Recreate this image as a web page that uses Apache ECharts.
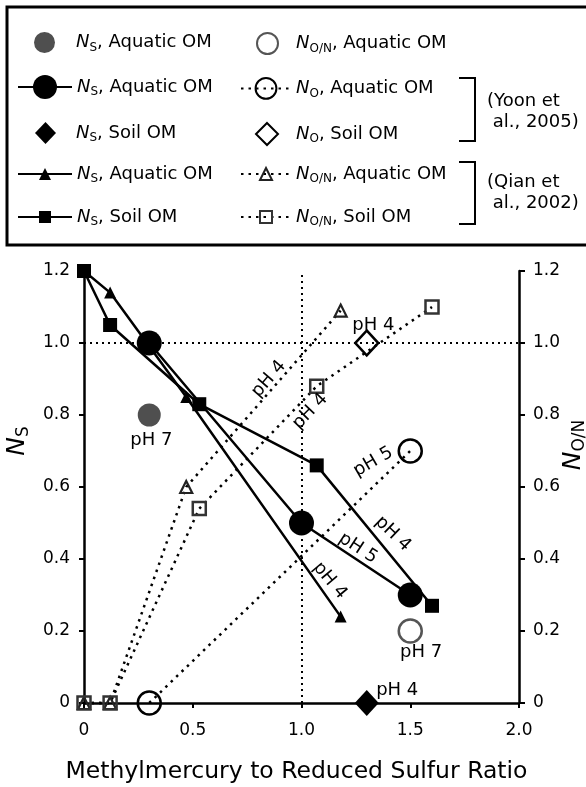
<!DOCTYPE html>
<html>
<head>
<meta charset="utf-8">
<script src="https://cdn.jsdelivr.net/npm/echarts@6.0.0/dist/echarts.min.js"></script>
<style>
  html, body { margin: 0; padding: 0; background: #fff; }
  #chart { width: 586px; height: 787px; }
</style>
</head>
<body>
<div id="chart"></div>
<script>
// Yoon et al., 2005
const yoonAqX = [0.3, 1.0, 1.5];
const yoonNsAq = [1.0, 0.5, 0.3];
const yoonNoAqX = [0.3, 1.5];
const yoonNoAq = [0, 0.7];
const yoonSoilX = [1.3];
const yoonNsSoil = [0];
const yoonNoSoil = [1.0];

// Qian et al., 2002
const qianAqX = [0, 0.12, 0.47, 1.18];
const qianNsAq = [1.2, 1.14, 0.85, 0.24];
const qianNoAq = [0, 0, 0.6, 1.09];
const qianSoilX = [0, 0.12, 0.53, 1.07, 1.6];
const qianNsSoil = [1.2, 1.05, 0.83, 0.66, 0.27];
const qianNoSoil = [0, 0, 0.54, 0.88, 1.1];

// this study
const ownNsX = [0.3];
const ownNs = [0.8];
const ownNoX = [1.5];
const ownNo = [0.2];

// reference lines
const refX = [1.0];
const refY = [1.0];

// pH notes
const noteText = ['pH 7', 'pH 7', 'pH 4', 'pH 4', 'pH 4', 'pH 5', 'pH 4', 'pH 5', 'pH 4', 'pH 4'];
const noteX = [0.31, 1.55, 0.85, 1.04, 1.33, 1.33, 1.42, 1.26, 1.13, 1.44];
const noteY = [0.73, 0.14, 0.90, 0.81, 1.05, 0.67, 0.47, 0.43, 0.34, 0.035];
const noteRot = [0, 0, 49, 46, 0, 30, -44, -33, -50, 0];

const xTicks = ['0', '0.5', '1.0', '1.5', '2.0'];

const FONT = 'DejaVu Sans';
const pairs = (xs, ys) => xs.map((x, i) => [x, ys[i]]);

const legendRich = {
  g: { fontSize: 18, fontFamily: FONT },
  n: { fontSize: 18, fontStyle: 'italic', fontFamily: FONT },
  s: { fontSize: 12, fontFamily: FONT, padding: [10, 0, 0, 0] },
  t: { fontSize: 18, fontFamily: FONT }
};
const legendText = {
  ownNs: '{n|N}{s|S}{t|, Aquatic OM}',
  ownNo: '{n|N}{s|O/N}{t|, Aquatic OM}',
  yoonNsAq: '{n|N}{s|S}{t|, Aquatic OM}',
  yoonNoAq: '{n|N}{s|O}{t|, Aquatic OM}',
  yoonNsSoil: '{n|N}{s|S}{t|, Soil OM}',
  yoonNoSoil: '{n|N}{s|O}{t|, Soil OM}',
  qianNsAq: '{n|N}{s|S}{t|, Aquatic OM}',
  qianNoAq: '{n|N}{s|O/N}{t|, Aquatic OM}',
  qianNsSoil: '{n|N}{s|S}{t|, Soil OM}',
  qianNoSoil: '{n|N}{s|O/N}{t|, Soil OM}'
};

// gap: extra room between a lone symbol and its text, so texts line up
function legendFor(name, left, top, itemWidth, itemHeight, gap) {
  const rich = Object.assign({}, legendRich, { g: Object.assign({}, legendRich.g, { width: gap || 0 }) });
  return {
    data: [name],
    left: left,
    top: top,
    padding: 0,
    itemWidth: itemWidth,
    itemHeight: itemHeight,
    selectedMode: false,
    formatter: (n) => (gap ? '{g| }' : '') + legendText[n],
    textStyle: { color: '#000', rich: rich }
  };
}

const solid = { color: '#000', width: 2.5, type: 'solid' };
const dotted = { color: '#000', width: 2.5, type: [2.5, 5] };
const open = (c, w) => ({ color: 'transparent', borderColor: c, borderWidth: w, opacity: 1 });

const chart = echarts.init(document.getElementById('chart'));

chart.setOption({
  animation: false,
  backgroundColor: '#fff',
  textStyle: { fontFamily: FONT },
  grid: { left: 84, right: 67, top: 271, bottom: 84, containLabel: false, outerBoundsMode: 'none' },
  legend: [
    legendFor('ownNs', 34, 32, 21, 21, 16),
    legendFor('ownNo', 256, 32, 21, 21, 13),
    legendFor('yoonNsAq', 17, 75, 54, 30),
    legendFor('yoonNoAq', 240, 77, 50, 26),
    legendFor('yoonNsSoil', 35, 122, 21, 22, 15),
    legendFor('yoonNoSoil', 255, 122, 22, 22, 13),
    legendFor('qianNsAq', 17, 165, 54, 15),
    legendFor('qianNoAq', 240, 165, 50, 15),
    legendFor('qianNsSoil', 17, 208, 54, 15),
    legendFor('qianNoSoil', 240, 208, 50, 15)
  ],
  graphic: [
    { type: 'rect', shape: { x: 7, y: 7, width: 600, height: 238 },
      style: { fill: 'none', stroke: '#000', lineWidth: 3 } },
    { type: 'polyline', shape: { points: [[459, 78], [475, 78], [475, 141], [459, 141]] },
      style: { fill: 'none', stroke: '#000', lineWidth: 2 } },
    { type: 'polyline', shape: { points: [[459, 162], [475, 162], [475, 224], [459, 224]] },
      style: { fill: 'none', stroke: '#000', lineWidth: 2 } },
    { type: 'text', x: 487, y: 91,
      style: { text: '(Yoon et\n al., 2005)', font: '18px "DejaVu Sans"', lineHeight: 21, fill: '#000' } },
    { type: 'text', x: 487, y: 172,
      style: { text: '(Qian et\n al., 2002)', font: '18px "DejaVu Sans"', lineHeight: 21, fill: '#000' } }
  ],
  xAxis: {
    type: 'value', min: 0, max: 2, interval: 0.5,
    name: 'Methylmercury to Reduced Sulfur Ratio',
    nameLocation: 'middle', nameGap: 57,
    nameTextStyle: { fontSize: 23.5, color: '#000', fontFamily: FONT, padding: [0, 10, 0, 0] },
    axisLine: { lineStyle: { color: '#000', width: 2.5 } },
    axisTick: { length: 5, lineStyle: { color: '#000', width: 2 } },
    axisLabel: { fontSize: 17, color: '#000', margin: 19,
      formatter: (v) => xTicks[Math.round(v / 0.5)] },
    splitLine: { show: false }
  },
  yAxis: [
    {
      type: 'value', min: 0, max: 1.2, interval: 0.2, position: 'left',
      name: '{n|N}{s|S}', nameLocation: 'middle', nameGap: 46, nameRotate: 90,
      nameTextStyle: {
        color: '#000', padding: [0, 0, 0, 92],
        rich: { n: { fontSize: 25, fontStyle: 'italic', fontFamily: FONT },
                s: { fontSize: 17, fontFamily: FONT, padding: [12, 0, 0, 0] } }
      },
      axisLine: { show: true, lineStyle: { color: '#000', width: 2.5 } },
      axisTick: { show: true, length: 5, lineStyle: { color: '#000', width: 2 } },
      axisLabel: { fontSize: 17, color: '#000', margin: 14,
        formatter: (v) => (v === 0 ? '0' : v.toFixed(1)) },
      splitLine: { show: false }
    },
    {
      type: 'value', min: 0, max: 1.2, interval: 0.2, position: 'right',
      name: '{n|N}{s|O/N}', nameLocation: 'middle', nameGap: 40, nameRotate: 90,
      nameMoveOverlap: false,
      nameTextStyle: {
        color: '#000', padding: [0, 0, 0, 84],
        rich: { n: { fontSize: 25, fontStyle: 'italic', fontFamily: FONT },
                s: { fontSize: 17, fontFamily: FONT, padding: [12, 0, 0, 0] } }
      },
      axisLine: { show: true, lineStyle: { color: '#000', width: 2.5 } },
      axisTick: { show: true, length: 6, lineStyle: { color: '#000', width: 2 } },
      axisLabel: { fontSize: 17, color: '#000', margin: 14,
        formatter: (v) => (v === 0 ? '0' : v.toFixed(1)) },
      splitLine: { show: false }
    }
  ],
  series: [
    {
      name: 'refs', type: 'line', data: [], silent: true,
      markLine: {
        silent: true, symbol: 'none', label: { show: false },
        lineStyle: { color: '#000', width: 2, type: [2, 4] },
        data: refX.map((v) => ({ xAxis: v })).concat(refY.map((v) => ({ yAxis: v })))
      }
    },
    {
      name: 'qianNoAq', type: 'line', clip: false, data: pairs(qianAqX, qianNoAq),
      symbol: 'triangle', symbolSize: 12, lineStyle: dotted,
      itemStyle: open('#222', 2.2), z: 3
    },
    {
      name: 'qianNoSoil', type: 'line', clip: false, data: pairs(qianSoilX, qianNoSoil),
      symbol: 'rect', symbolSize: 13, lineStyle: dotted,
      itemStyle: open('#333', 2.5), z: 3
    },
    {
      name: 'yoonNoAq', type: 'line', clip: false, data: pairs(yoonNoAqX, yoonNoAq),
      symbol: 'circle', symbolSize: 23, lineStyle: dotted,
      itemStyle: open('#000', 2.5), z: 3
    },
    {
      name: 'qianNsAq', type: 'line', clip: false, data: pairs(qianAqX, qianNsAq),
      symbol: 'triangle', symbolSize: 12, lineStyle: solid,
      itemStyle: { color: '#000' }, z: 4
    },
    {
      name: 'qianNsSoil', type: 'line', clip: false, data: pairs(qianSoilX, qianNsSoil),
      symbol: 'rect', symbolSize: 14, lineStyle: solid,
      itemStyle: { color: '#000' }, z: 4
    },
    {
      name: 'yoonNsAq', type: 'line', clip: false, data: pairs(yoonAqX, yoonNsAq),
      symbol: 'circle', symbolSize: 25, lineStyle: solid,
      itemStyle: { color: '#000' }, z: 5
    },
    {
      name: 'yoonNsSoil', type: 'scatter', data: pairs(yoonSoilX, yoonNsSoil),
      symbol: 'diamond', symbolSize: [24, 26], itemStyle: { color: '#000', opacity: 1 }, z: 5
    },
    {
      name: 'yoonNoSoil', type: 'scatter', data: pairs(yoonSoilX, yoonNoSoil),
      symbol: 'diamond', symbolSize: [23, 25], itemStyle: open('#000', 2.5), z: 5
    },
    {
      name: 'ownNs', type: 'scatter', data: pairs(ownNsX, ownNs),
      symbol: 'circle', symbolSize: 23, itemStyle: { color: '#4f4f4f', opacity: 1 }, z: 5
    },
    {
      name: 'ownNo', type: 'scatter', data: pairs(ownNoX, ownNo),
      symbol: 'circle', symbolSize: 23, itemStyle: open('#555', 2.5), z: 5
    },
    {
      name: 'notes', type: 'scatter', silent: true, symbolSize: 0, z: 6,
      itemStyle: { opacity: 1 },
      data: noteText.map((t, i) => ({
        value: [noteX[i], noteY[i]],
        label: { show: true, position: 'inside', formatter: t, rotate: noteRot[i],
          fontSize: 18, color: '#000', fontFamily: FONT }
      }))
    }
  ]
});
</script>
</body>
</html>
